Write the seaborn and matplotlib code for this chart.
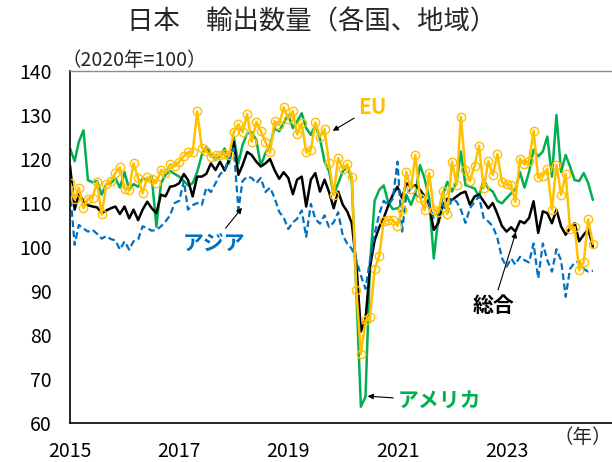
import matplotlib
matplotlib.use("Agg")
import matplotlib.pyplot as plt
import matplotlib.dates as mdates
import pandas as pd
import seaborn as sns

# monthly index values (2020 = 100), Jan 2015 - Aug 2024
months = pd.date_range("2015-01-01", periods=116, freq="MS")

total = [118.5, 108.5, 112.0, 110.5, 109.5, 109.2, 109.0, 107.7, 108.3, 108.8, 109.2, 107.5,
         109.2, 106.5, 108.5, 106.1, 108.5, 110.3, 108.8, 107.7, 111.9, 111.5, 113.7, 113.9,
         114.5, 116.6, 115.2, 111.5, 116.0, 116.0, 116.6, 119.0, 117.5, 119.4, 117.4, 119.8,
         123.9, 116.4, 118.6, 121.6, 120.9, 119.4, 118.3, 119.0, 120.0, 117.5, 115.5, 117.0,
         115.7, 112.0, 115.3, 116.0, 109.2, 115.3, 116.8, 112.6, 115.3, 112.5, 108.8, 112.6,
         109.6, 108.0, 105.4, 96.0, 80.8, 83.5, 95.5, 101.5, 104.5, 106.6, 109.5, 111.9,
         113.7, 111.1, 114.5, 113.7, 114.0, 113.0, 111.5, 109.6, 103.9, 105.4, 109.5, 111.0,
         110.7, 111.5, 112.2, 112.6, 109.6, 111.5, 111.9, 110.4, 108.8, 110.0, 107.5, 104.8,
         103.5, 104.5, 103.5, 105.9, 105.4, 106.6, 110.4, 103.2, 108.1, 107.7, 105.4, 108.5,
         104.7, 102.8, 104.3, 105.4, 101.3, 102.8, 104.0, 100.1]

eu = [114.6, 110.8, 113.5, 108.8, 111.0, 111.2, 114.8, 107.4, 114.3, 115.0, 116.8, 118.1,
      113.2, 113.0, 119.0, 115.6, 112.2, 115.8, 115.5, 114.6, 117.5, 116.8, 118.8, 118.3,
      119.4, 120.7, 121.5, 121.5, 130.8, 122.6, 121.8, 120.5, 120.9, 120.8, 121.1, 120.8,
      126.1, 127.9, 126.1, 130.2, 123.9, 128.5, 126.3, 123.9, 121.5, 128.6, 127.7, 131.8,
      129.2, 130.9, 125.6, 128.1, 121.5, 122.1, 128.3, 125.1, 126.8, 119.0, 111.9, 120.2,
      117.7, 118.8, 116.0, 90.2, 75.7, 83.3, 84.0, 94.9, 98.0, 105.9, 106.1, 106.2,
      104.8, 108.4, 117.1, 113.2, 120.9, 111.2, 108.4, 116.8, 108.4, 107.9, 112.7, 107.6,
      119.4, 114.1, 129.6, 117.5, 115.0, 118.5, 123.0, 113.3, 119.5, 116.4, 121.1, 114.7,
      114.3, 114.0, 110.3, 120.1, 118.8, 119.6, 126.4, 115.8, 116.2, 117.8, 108.5, 118.7,
      111.9, 116.6, 104.2, 104.5, 94.7, 96.7, 106.3, 100.7]

usa = [122.4, 119.5, 123.9, 126.5, 115.2, 114.7, 115.0, 111.9, 114.3, 114.5, 115.6, 113.5,
       117.0, 113.0, 114.3, 113.7, 115.6, 115.2, 116.0, 104.6, 114.5, 116.4, 117.3, 116.6,
       116.0, 115.0, 114.0, 114.5, 117.0, 120.9, 122.8, 121.0, 119.8, 120.5, 122.4, 119.0,
       125.0, 119.0, 123.2, 125.8, 126.1, 124.3, 118.5, 121.3, 123.2, 127.0, 126.3, 128.2,
       130.0, 127.0, 128.5, 130.4, 127.0, 125.5, 127.7, 124.7, 119.4, 117.2, 111.9, 114.5,
       117.2, 118.3, 115.3, 89.5, 63.7, 66.0, 96.0, 110.5, 113.0, 114.0, 110.0, 108.6,
       108.8, 109.6, 111.9, 109.6, 112.2, 118.6, 115.6, 111.1, 97.4, 106.6, 111.9, 114.8,
       112.6, 114.8, 121.7, 114.1, 113.7, 113.3, 111.5, 115.3, 113.3, 112.6, 110.5, 109.9,
       111.1, 112.2, 113.2, 117.0, 113.5, 117.1, 122.1, 120.6, 121.7, 125.1, 116.0, 130.0,
       117.1, 120.9, 118.3, 115.2, 115.0, 116.8, 114.5, 110.7]

asia = [113.0, 100.5, 105.0, 104.2, 103.5, 103.9, 103.0, 101.9, 102.5, 101.8, 101.5, 99.4,
        101.3, 99.4, 101.3, 101.7, 104.7, 104.3, 103.7, 103.9, 104.7, 105.8, 107.2, 110.0,
        110.5, 115.0, 108.5, 109.5, 110.0, 109.5, 113.5, 112.5, 114.5, 116.5, 117.5, 120.0,
        122.5, 108.5, 115.0, 116.0, 115.7, 114.5, 115.7, 112.5, 113.5, 111.2, 108.0, 106.7,
        104.1, 105.6, 106.4, 108.3, 102.3, 109.8, 106.4, 105.3, 107.2, 104.5, 105.6, 107.9,
        102.6, 100.7, 99.6, 97.0, 93.5, 90.5, 97.0, 103.0, 107.5, 110.5, 109.5, 111.0,
        119.4, 103.5, 111.9, 113.3, 111.9, 111.1, 111.5, 109.6, 106.6, 107.7, 109.6, 107.7,
        111.1, 110.3, 108.5, 105.5, 108.8, 110.3, 111.5, 106.6, 105.8, 104.7, 102.0, 97.5,
        95.5, 97.4, 96.0, 97.8, 97.0, 96.5, 100.8, 92.9, 100.8, 97.0, 94.4, 99.5,
        97.0, 88.7, 95.0, 96.5, 96.7, 95.0, 94.4, 94.6]

tick_years = [2015, 2017, 2019, 2021, 2023]
y_ticks = [60, 70, 80, 90, 100, 110, 120, 130, 140]

GREEN = "#00B050"
GOLD = "#FFC000"
BLUE = "#0070C0"

sns.set_style("white")
plt.rcParams["font.family"] = ["Noto Sans CJK JP", "DejaVu Sans"]

fig = plt.figure(figsize=(6.12, 4.62), dpi=100)
ax = fig.add_axes([0.1144, 0.0844, 0.8856, 0.7619])

sns.lineplot(x=months, y=usa, color=GREEN, lw=1.8, ax=ax)
sns.lineplot(x=months, y=total, color="black", lw=1.8, ax=ax)
sns.lineplot(x=months, y=asia, color=BLUE, lw=1.6, linestyle=(0, (3, 1.6)), ax=ax)
sns.lineplot(x=months, y=eu, color=GOLD, lw=1.8, marker="o", markersize=6,
             markerfacecolor="none", markeredgecolor=GOLD, markeredgewidth=1.0, ax=ax)

ax.set_ylim(60, 140)
ax.set_yticks(y_ticks)
ax.set_xlim(pd.Timestamp("2015-01-01"), pd.Timestamp("2024-12-07"))
ax.set_xticks([pd.Timestamp(f"{y}-01-01") for y in tick_years])
ax.set_xticklabels([str(y) for y in tick_years])
ax.set_xlabel("")
ax.set_ylabel("")

ax.tick_params(axis="both", direction="in", length=5, width=1, colors="black",
               labelsize=14, labelcolor="black")
ax.tick_params(axis="y", pad=13)
ax.tick_params(axis="x", pad=13)

for side in ["left", "bottom"]:
    ax.spines[side].set_color("black")
    ax.spines[side].set_linewidth(1.2)
ax.spines["top"].set_color("#8c8c8c")
ax.spines["top"].set_linewidth(1.0)
ax.spines["right"].set_visible(False)

fig.text(0.51, 0.952, "日本\u3000輸出数量（各国、地域）", ha="center", va="center", fontsize=19)
fig.text(0.100, 0.870, "（2020年=100）", ha="left", va="center", fontsize=14)
fig.text(0.953, 0.052, "（年）", ha="center", va="center", fontsize=14)

d = mdates.date2num
arrow = dict(arrowstyle="-|>", color="black", lw=0.8, mutation_scale=8, shrinkA=1, shrinkB=0)

ax.annotate("EU", xy=(d(pd.Timestamp("2019-10-25")), 126.4),
            xytext=(d(pd.Timestamp("2020-07-20")), 131.8),
            ha="center", va="center", fontsize=15, fontweight="bold", color=GOLD,
            arrowprops=arrow)
ax.annotate("アジア", xy=(d(pd.Timestamp("2018-02-25")), 108.9),
            xytext=(d(pd.Timestamp("2017-08-20")), 100.9),
            ha="center", va="center", fontsize=15, fontweight="bold", color=BLUE,
            arrowprops=arrow)
ax.annotate("総合", xy=(d(pd.Timestamp("2023-03-05")), 103.4),
            xytext=(d(pd.Timestamp("2022-10-05")), 86.8),
            ha="center", va="center", fontsize=15, fontweight="bold", color="black",
            arrowprops=arrow)
ax.annotate("アメリカ", xy=(d(pd.Timestamp("2020-06-15")), 66.1),
            xytext=(d(pd.Timestamp("2021-10-10")), 65.0),
            ha="center", va="center", fontsize=15, fontweight="bold", color=GREEN,
            arrowprops=arrow)

fig.savefig("out.png", dpi=100)
